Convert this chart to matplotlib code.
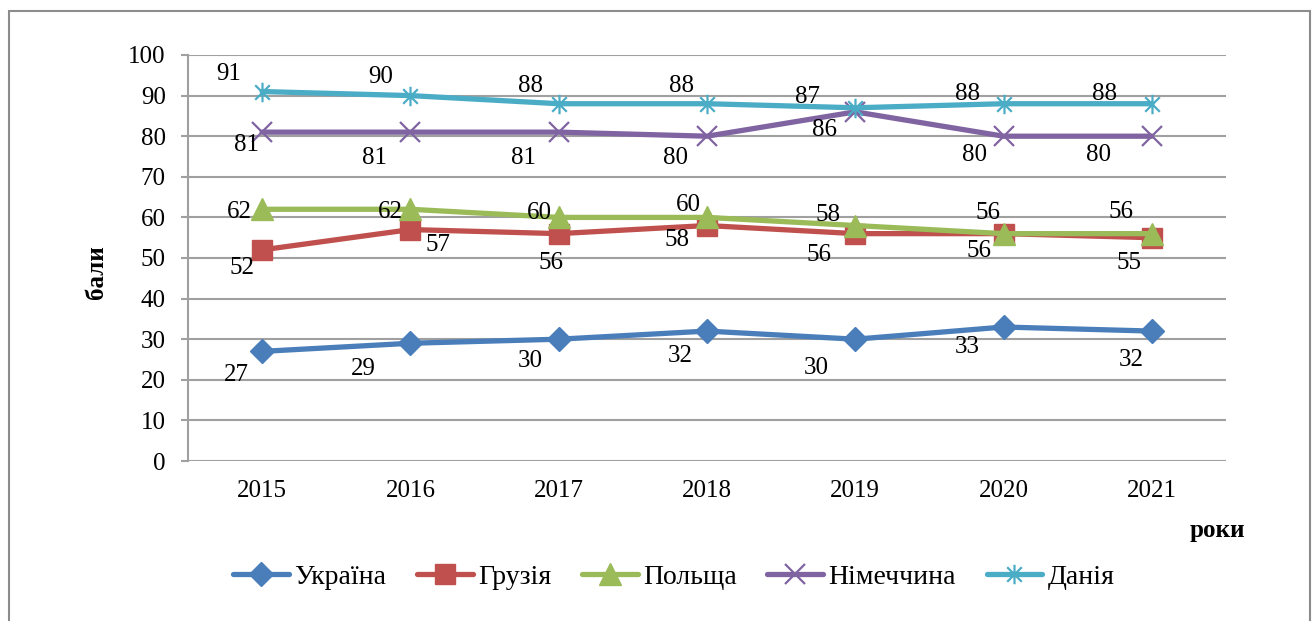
import matplotlib
matplotlib.use("Agg")
import matplotlib.pyplot as plt
from matplotlib.path import Path
from matplotlib.patches import Rectangle
import numpy as np

plt.rcParams['font.family'] = ['Liberation Serif', 'DejaVu Serif']

years = ['2015', '2016', '2017', '2018', '2019', '2020', '2021']
ukraine = [27, 29, 30, 32, 30, 33, 32]
georgia = [52, 57, 56, 58, 56, 56, 55]
poland = [62, 62, 60, 60, 58, 56, 56]
germany = [81, 81, 81, 80, 86, 80, 80]
denmark = [91, 90, 88, 88, 87, 88, 88]
names = ['Україна', 'Грузія', 'Польща', 'Німеччина', 'Данія']
colors = ['#4A7EBB', '#C0504D', '#9BBB59', '#8064A2', '#4BACC6']

# label offsets in pixels (dx right, dy down)
off_ukraine = [(-26, 24), (-47, 26), (-28, 22), (-27, 25), (-39, 29), (-36, 20), (-21, 29)]
off_georgia = [(-20, 18), (28, 15), (-8, 29), (-30, 14), (-36, 21), (-25, 17), (-23, 25)]
off_poland = [(-23, 3), (-20, 3), (-19, -4), (-19, -12), (-27, -11), (-16, -21), (-31, -22)]
off_germany = [(-16, 13), (-36, 26), (-35, 26), (-32, 22), (-31, 18), (-29, 19), (-53, 19)]
off_denmark = [(-33, -18), (-30, -19), (-28, -18), (-26, -18), (-48, -11), (-36, -10), (-47, -10)]

asterisk = Path([(0, -1), (0, 1), (-0.75, -0.75), (0.75, 0.75), (-0.75, 0.75), (0.75, -0.75)],
                [Path.MOVETO, Path.LINETO, Path.MOVETO, Path.LINETO, Path.MOVETO, Path.LINETO])

W, H = 1314, 621
fig = plt.figure(figsize=(W / 100, H / 100), dpi=100)
fig.patches.append(Rectangle((9 / W, -0.05), (1310 - 9) / W, 1 - 11 / H + 0.05,
                             transform=fig.transFigure, fill=False,
                             edgecolor='#8C8C8C', linewidth=1.5))
ax = fig.add_axes([188 / W, 1 - 461 / H, (1226 - 188) / W, (461 - 55) / H])

x = np.arange(len(years))
series = [ukraine, georgia, poland, germany, denmark]
offsets = [off_ukraine, off_georgia, off_poland, off_germany, off_denmark]
markers = ['D', 's', '^', 'x', asterisk]
msizes = [12.5, 14, 15.5, 14, 14]
mews = [1, 1, 1, 1.6, 1.6]

handles = []
for vals, off, m, ms, mew, c, n in zip(series, offsets, markers, msizes, mews, colors, names):
    h, = ax.plot(x, vals, color=c, lw=3.8, marker=m, markersize=ms,
                 markerfacecolor=c, markeredgecolor=c, markeredgewidth=mew,
                 solid_capstyle='round', label=n, zorder=3)
    handles.append(h)
    for xi, v, (dx, dy) in zip(x, vals, off):
        ax.annotate(str(v), (xi, v), xytext=(dx, -dy), textcoords='offset pixels',
                    ha='center', va='center', fontsize=18, zorder=5)

ax.set_xlim(-0.5, 6.5)
ax.set_ylim(0, 100)
ax.set_yticks(range(0, 101, 10))
ax.set_xticks(x)
ax.set_xticklabels(years)
ax.grid(axis='y', color='#A0A0A0', lw=1.5)
ax.set_axisbelow(True)
for s in ['top', 'right', 'bottom']:
    ax.spines[s].set_visible(False)
ax.spines['left'].set_color('#A0A0A0')
ax.spines['left'].set_linewidth(1.5)
ax.tick_params(axis='y', length=5, width=1.5, color='#A0A0A0', pad=11, labelsize=18)
ax.tick_params(axis='x', length=0, pad=14, labelsize=18)

fig.text(96 / W, 1 - 272 / H, 'бали', rotation=90, fontsize=18, fontweight='bold',
         ha='center', va='center')
fig.text(1217 / W, 1 - 531 / H, 'роки', fontsize=18, fontweight='bold',
         ha='center', va='center')

fig.legend(handles=handles, loc='center', bbox_to_anchor=(674 / W, 1 - 577 / H),
           ncol=5, frameon=False, fontsize=20, handlelength=2.0, handletextpad=0.2,
           columnspacing=1.1)

fig.savefig('out.png', dpi=100)
